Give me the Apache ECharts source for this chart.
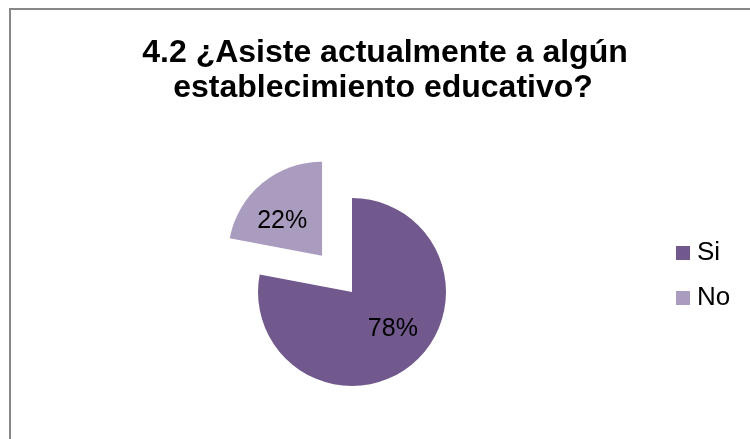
<!DOCTYPE html>
<html>
<head>
<meta charset="utf-8">
<script src="https://cdn.jsdelivr.net/npm/echarts@6/dist/echarts.min.js"></script>
<style>
html,body{margin:0;padding:0;background:#fff;}
#c{width:750px;height:439px;}
</style>
</head>
<body>
<div id="c"></div>
<script>
const titleLines = ['4.2 ¿Asiste actualmente a algún', 'establecimiento educativo?'];
const categories = ['Si', 'No'];
const values = [78, 22];
const colors = ['#71598E', '#A99CBF'];

const FONT = '"Liberation Sans", Arial, sans-serif';
const chart = echarts.init(document.getElementById('c'));
chart.setOption({
  backgroundColor: '#fff',
  animation: false,
  graphic: [{
    type: 'rect',
    shape: { x: 10, y: 9, width: 800, height: 500 },
    style: { fill: 'none', stroke: '#878787', lineWidth: 2 },
    silent: true
  }, {
    type: 'text',
    x: 385,
    y: 53,
    silent: true,
    style: {
      text: titleLines[0],
      align: 'center',
      verticalAlign: 'middle',
      fontFamily: FONT,
      fontWeight: 'bold',
      fontSize: 32,
      fill: '#000'
    }
  }, {
    type: 'text',
    x: 383,
    y: 88,
    silent: true,
    style: {
      text: titleLines[1],
      align: 'center',
      verticalAlign: 'middle',
      fontFamily: FONT,
      fontWeight: 'bold',
      fontSize: 32,
      fill: '#000'
    }
  }],
  legend: {
    orient: 'vertical',
    left: 676,
    top: 240,
    padding: 0,
    itemWidth: 14,
    itemHeight: 14,
    itemGap: 19,
    icon: 'rect',
    selectedMode: false,
    data: categories,
    textStyle: { fontFamily: FONT, fontSize: 26, lineHeight: 26, color: '#000', padding: [0, 0, 0, 2] }
  },
  series: [{
    type: 'pie',
    center: [352, 292],
    radius: 94,
    startAngle: 90,
    clockwise: true,
    selectedMode: 'single',
    selectedOffset: 47,
    avoidLabelOverlap: false,
    label: {
      show: true,
      position: 'inside',
      formatter: '{d}%',
      fontFamily: FONT,
      fontSize: 25,
      color: '#000'
    },
    labelLayout: function (p) {
      return p.dataIndex === 0 ? { dx: 9, dy: -1 } : { dx: -8, dy: 4 };
    },
    labelLine: { show: false },
    emphasis: { disabled: true },
    itemStyle: { borderWidth: 0 },
    data: categories.map(function (c, i) {
      return { name: c, value: values[i], selected: i === 1, itemStyle: { color: colors[i] } };
    })
  }]
});
</script>
</body>
</html>
